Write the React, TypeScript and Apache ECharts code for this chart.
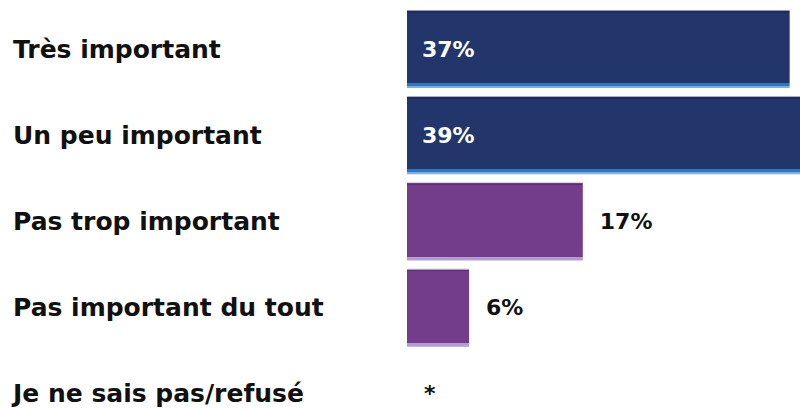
import React, { useEffect, useRef } from "react";
import * as echarts from "echarts";

const categories = [
  "Très important",
  "Un peu important",
  "Pas trop important",
  "Pas important du tout",
  "Je ne sais pas/refusé",
];
const values = [37, 39, 17, 6, 0];
const valueLabels = ["37%", "39%", "17%", "6%", "*"];
const groups = ["blue", "blue", "purple", "purple", "none"];

function blueFill() {
  return new echarts.graphic.LinearGradient(0, 0, 0, 1, [
    { offset: 0, color: "#8e98b4" },
    { offset: 0.012, color: "#8e98b4" },
    { offset: 0.013, color: "#1c2c5c" },
    { offset: 0.035, color: "#1c2c5c" },
    { offset: 0.036, color: "#23366b" },
    { offset: 0.935, color: "#23366b" },
    { offset: 0.936, color: "#2a78c2" },
    { offset: 0.975, color: "#2a78c2" },
    { offset: 0.976, color: "#7fb0dd" },
    { offset: 1, color: "#7fb0dd" },
  ]);
}
function purpleFill() {
  return new echarts.graphic.LinearGradient(0, 0, 0, 1, [
    { offset: 0, color: "#b79fc4" },
    { offset: 0.012, color: "#b79fc4" },
    { offset: 0.013, color: "#5f2d77" },
    { offset: 0.035, color: "#5f2d77" },
    { offset: 0.036, color: "#743d8b" },
    { offset: 0.955, color: "#743d8b" },
    { offset: 0.956, color: "#b69bd2" },
    { offset: 1, color: "#b69bd2" },
  ]);
}

export default function App() {
  const ref = useRef<HTMLDivElement>(null);
  useEffect(() => {
    document.body.style.margin = "0";
    document.body.style.overflow = "hidden";
    const chart = echarts.init(ref.current!, null, { renderer: "svg" });
    const data = values.map((v, i) => {
      const inside = groups[i] === "blue";
      return {
        value: v,
        itemStyle: {
          color: groups[i] === "blue" ? blueFill() : purpleFill(),
        },
        label: {
          show: true,
          position: inside ? "insideLeft" : "right",
          distance: inside ? 15 : 17,
          color: inside ? "#ffffff" : "#111111",
          formatter: () => valueLabels[i],
        },
      };
    });
    chart.setOption({
      animation: false,
      backgroundColor: "#ffffff",
      grid: { left: 407, right: 0, top: 6, bottom: 4, containLabel: false },
      xAxis: { type: "value", min: 0, max: 38, show: false },
      yAxis: {
        type: "category",
        data: categories,
        inverse: true,
        axisLine: { show: false },
        axisTick: { show: false },
        axisLabel: {
          align: "left",
          margin: 394,
          color: "#111111",
          fontFamily: "DejaVu Sans",
          fontWeight: "bold",
          fontSize: 25,
        },
      },
      series: [
        {
          type: "bar",
          data,
          barWidth: 78,
          label: {
            fontFamily: "DejaVu Sans",
            fontWeight: "bold",
            fontSize: 22,
          },
        },
      ],
    });
    return () => chart.dispose();
  }, []);
  return (
    <div style={{ width: 800, height: 410, overflow: "hidden" }}>
      <div ref={ref} style={{ width: 800, height: 441 }} />
    </div>
  );
}
